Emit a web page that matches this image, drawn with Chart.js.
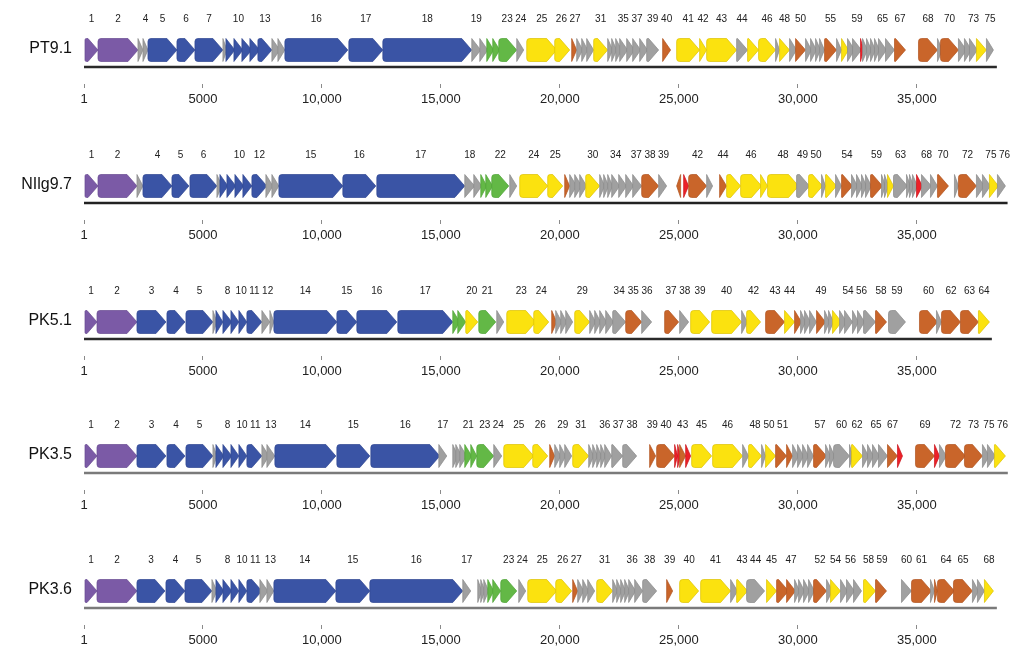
<!DOCTYPE html>
<html>
<head>
<meta charset="utf-8">
<script src="https://cdn.jsdelivr.net/npm/chart.js@4.4.1/dist/chart.umd.min.js"></script>
<style>
  html, body { margin: 0; padding: 0; background: #fff; width: 1020px; height: 647px; overflow: hidden; }
  .track { position: absolute; left: 0; width: 1020px; height: 107px; }
</style>
</head>
<body>
<div class="track" style="top:0px"><canvas id="t0"></canvas></div>
<div class="track" style="top:136px"><canvas id="t1"></canvas></div>
<div class="track" style="top:272px"><canvas id="t2"></canvas></div>
<div class="track" style="top:406px"><canvas id="t3"></canvas></div>
<div class="track" style="top:541px"><canvas id="t4"></canvas></div>
<script>
// axis ticks (bp)
const TICKS = [1, 5000, 10000, 15000, 20000, 25000, 30000, 35000];
const TICK_LABELS = ['1', '5000', '10,000', '15,000', '20,000', '25,000', '30,000', '35,000'];

const TRACK_NAMES = ['PT9.1', 'NIlg9.7', 'PK5.1', 'PK3.5', 'PK3.6'];
const GENOME_LENGTHS = [38350, 38800, 38140, 38810, 38350];

// genes: [start, end, kind]  (start > end = reverse strand)
// kinds: p purple, b blue, g grey, n green, y yellow, o orange, r red
const PT91_GENES = [
  [42,588,'p'],[588,2268,'p'],[2268,2478,'g'],[2478,2688,'g'],[2688,3906,'b'],[3906,4662,'b'],
  [4662,5838,'b'],[5838,6006,'g'],[5964,6342,'b'],[6300,6678,'b'],[6636,7056,'b'],[6972,7392,'b'],
  [7308,7896,'b'],[7896,8232,'g'],[8148,8442,'g'],[8442,11088,'b'],[11130,12558,'b'],[12558,16296,'b'],
  [16296,16674,'g'],[16632,16968,'g'],[16926,17220,'n'],[17178,17472,'n'],[17430,18186,'n'],[18186,18480,'g'],
  [18606,19866,'y'],[19782,20412,'y'],[20496,20706,'o'],[20706,20958,'g'],[20916,21168,'g'],[21126,21420,'g'],
  [21420,22008,'y'],[22008,22218,'g'],[22176,22386,'g'],[22344,22596,'g'],[22512,22848,'g'],[22806,23142,'g'],
  [23058,23394,'g'],[23352,23688,'g'],[23646,24150,'g'],[24318,24654,'o'],[24906,25872,'y'],[25872,26166,'y'],
  [26166,27426,'y'],[27426,27888,'g'],[27888,28350,'y'],[28350,29064,'y'],[29064,29232,'g'],[29232,29652,'y'],
  [29652,29946,'g'],[29904,30324,'o'],[30324,30576,'g'],[30534,30786,'g'],[30744,30954,'g'],[30912,31122,'g'],
  [31122,31626,'o'],[31626,31836,'g'],[31836,32130,'y'],[32088,32382,'g'],[32298,32676,'g'],[32634,32760,'r'],
  [32718,32928,'g'],[32886,33096,'g'],[33054,33264,'g'],[33222,33432,'g'],[33390,33726,'g'],[33684,34062,'g'],
  [34062,34524,'o'],[35070,35868,'o'],[35868,36078,'g'],[35994,36750,'o'],[36750,37086,'g'],[37002,37296,'g'],
  [37212,37548,'g'],[37506,37926,'y'],[37926,38220,'g']
];
const PT91_LABELS = [1,2,4,5,6,7,10,13,16,17,18,19,23,24,25,26,27,31,35,37,39,40,41,42,43,44,46,48,50,55,59,65,67,68,70,73,75];

const NILG97_GENES = [
  [42,588,'p'],[588,2226,'p'],[2226,2478,'g'],[2478,3696,'b'],[3696,4410,'b'],[4452,5586,'b'],
  [5586,5796,'g'],[5712,6048,'b'],[6006,6384,'b'],[6342,6720,'b'],[6678,7056,'b'],[7056,7686,'b'],
  [7644,7938,'g'],[7896,8190,'g'],[8190,10878,'b'],[10878,12264,'b'],[12306,16002,'b'],[16002,16422,'g'],
  [16380,16716,'g'],[16674,16926,'n'],[16884,17178,'n'],[17136,17850,'n'],[17892,18186,'g'],[18312,19488,'y'],
  [19488,20118,'y'],[20202,20412,'o'],[20412,20706,'g'],[20622,20916,'g'],[20832,21126,'g'],[21084,21672,'y'],
  [21672,21882,'g'],[21840,22050,'g'],[22008,22218,'g'],[22176,22512,'g'],[22470,22806,'g'],[22764,23100,'g'],
  [23058,23436,'g'],[23436,24150,'o'],[24150,24486,'g'],[25074,24906,'o'],[25200,25410,'r'],[25410,26166,'o'],
  [26166,26418,'g'],[26712,27006,'o'],[27006,27594,'y'],[27594,28476,'y'],[28434,28728,'y'],[28728,30030,'y'],
  [29946,30492,'g'],[30450,31038,'y'],[30996,31164,'g'],[31164,31626,'y'],[31584,31836,'g'],[31836,32298,'o'],
  [32256,32508,'g'],[32466,32718,'g'],[32676,32886,'g'],[32844,33096,'g'],[33054,33558,'o'],[33516,33684,'g'],
  [33642,33810,'g'],[33768,34020,'y'],[34020,34608,'g'],[34566,34734,'g'],[34692,34860,'g'],[34818,35028,'g'],
  [34986,35238,'r'],[35196,35616,'g'],[35574,35868,'g'],[35868,36330,'o'],[36582,36750,'g'],[36750,37506,'o'],
  [37506,37842,'g'],[37758,38094,'g'],[38052,38430,'y'],[38388,38724,'g']
];
const NILG97_LABELS = [1,2,4,5,6,10,12,15,16,17,18,22,24,25,30,34,37,38,39,42,44,46,48,49,50,54,59,63,68,70,72,75,76];

const PK51_GENES = [
  [42,546,'p'],[546,2226,'p'],[2226,3444,'b'],[3486,4242,'b'],[4284,5418,'b'],[5418,5586,'g'],
  [5544,5838,'b'],[5838,6216,'b'],[6174,6510,'b'],[6510,6846,'b'],[6846,7476,'b'],[7476,7812,'g'],
  [7812,7980,'g'],[7980,10626,'b'],[10626,11466,'b'],[11466,13146,'b'],[13188,15498,'b'],[15498,15792,'n'],
  [15708,16044,'n'],[16044,16548,'y'],[16590,17304,'n'],[17346,17640,'g'],[17766,18984,'y'],[18900,19530,'y'],
  [19656,19866,'o'],[19824,20076,'g'],[20034,20286,'g'],[20244,20538,'g'],[20622,21252,'y'],[21252,21504,'g'],
  [21462,21714,'g'],[21672,21966,'g'],[21924,22260,'g'],[22218,22764,'g'],[22764,23436,'o'],[23436,23856,'g'],
  [24402,24990,'o'],[25032,25410,'g'],[25494,26292,'y'],[26376,27636,'y'],[27636,27888,'g'],[27846,28434,'y'],
  [28644,29442,'o'],[29442,29862,'y'],[29862,30156,'o'],[30114,30324,'g'],[30282,30534,'g'],[30492,30786,'g'],
  [30786,31164,'o'],[31122,31332,'g'],[31290,31500,'g'],[31458,31836,'y'],[31752,32046,'g'],[31962,32298,'g'],
  [32298,32550,'g'],[32508,32802,'g'],[32760,33264,'g'],[33264,33726,'o'],[33810,34524,'g'],[35112,35868,'o'],
  [35826,36036,'g'],[36036,36834,'o'],[36834,37590,'o'],[37590,38052,'y']
];
const PK51_LABELS = [1,2,3,4,5,8,10,11,12,14,15,16,17,20,21,23,24,29,34,35,36,37,38,39,40,42,43,44,49,54,56,58,59,60,62,63,64];

const PK35_GENES = [
  [42,546,'p'],[546,2226,'p'],[2226,3444,'b'],[3486,4242,'b'],[4284,5418,'b'],[5418,5586,'g'],
  [5544,5880,'b'],[5838,6216,'b'],[6174,6510,'b'],[6510,6846,'b'],[6846,7476,'b'],[7476,7770,'g'],
  [7686,8022,'g'],[8022,10584,'b'],[10626,12012,'b'],[12054,14952,'b'],[14910,15246,'g'],[15498,15708,'g'],
  [15624,15876,'g'],[15792,16086,'g'],[16002,16296,'n'],[16254,16506,'n'],[16506,17220,'n'],[17220,17556,'g'],
  [17640,18900,'y'],[18858,19488,'y'],[19572,19782,'o'],[19782,20034,'g'],[19992,20244,'g'],[20202,20496,'g'],
  [20538,21210,'y'],[21210,21420,'g'],[21378,21588,'g'],[21546,21756,'g'],[21714,21924,'g'],[21882,22176,'g'],
  [22176,22638,'g'],[22638,23226,'g'],[23772,24024,'o'],[24066,24822,'o'],[24822,24948,'r'],[24948,25074,'r'],
  [25032,25284,'o'],[25284,25494,'r'],[25536,26376,'y'],[26418,27678,'y'],[27678,27930,'g'],[27930,28476,'y'],
  [28476,28644,'g'],[28644,29064,'y'],[29064,29526,'o'],[29526,29778,'o'],[29778,30030,'g'],[29988,30240,'g'],
  [30198,30450,'g'],[30408,30660,'g'],[30660,31206,'o'],[31164,31374,'g'],[31332,31542,'g'],[31500,32172,'g'],
  [32172,32298,'g'],[32256,32718,'y'],[32718,32970,'g'],[32928,33180,'g'],[33138,33432,'g'],[33390,33768,'g'],
  [33768,34188,'o'],[34188,34398,'r'],[34944,35742,'o'],[35742,35952,'r'],[35952,36246,'g'],[36204,37044,'o'],
  [37002,37758,'o'],[37758,38052,'g'],[37968,38304,'g'],[38262,38724,'y']
];
const PK35_LABELS = [1,2,3,4,5,8,10,11,13,14,15,16,17,21,23,24,25,26,29,31,36,37,38,39,40,43,45,46,48,50,51,57,60,62,65,67,69,72,73,75,76];

const PK36_GENES = [
  [42,546,'p'],[546,2226,'p'],[2226,3402,'b'],[3444,4242,'b'],[4242,5376,'b'],[5376,5586,'g'],
  [5544,5880,'b'],[5838,6216,'b'],[6174,6510,'b'],[6510,6846,'b'],[6846,7476,'b'],[7392,7728,'g'],
  [7686,7980,'g'],[7980,10584,'b'],[10584,12012,'b'],[12012,15918,'b'],[15918,16254,'g'],[16548,16716,'g'],
  [16674,16842,'g'],[16800,17010,'g'],[16968,17220,'n'],[17178,17514,'n'],[17514,18186,'n'],[18270,18564,'g'],
  [18648,19866,'y'],[19824,20496,'y'],[20538,20748,'o'],[20748,21000,'g'],[20958,21210,'g'],[21168,21462,'g'],
  [21546,22218,'y'],[22218,22428,'g'],[22386,22596,'g'],[22554,22764,'g'],[22722,22932,'g'],[22890,23184,'g'],
  [23142,23478,'g'],[23478,24066,'g'],[24486,24738,'o'],[25032,25830,'y'],[25914,27174,'y'],[27174,27468,'g'],
  [27426,27888,'y'],[27846,28602,'g'],[28686,29106,'y'],[29106,29610,'o'],[29526,29904,'o'],[29862,30072,'g'],
  [30030,30282,'g'],[30240,30492,'g'],[30450,30702,'g'],[30660,31206,'o'],[31206,31458,'g'],[31374,31794,'y'],
  [31794,32088,'g'],[32046,32382,'g'],[32340,32676,'g'],[32760,33264,'y'],[33264,33726,'o'],[34356,34776,'g'],
  [34776,35616,'o'],[35574,35742,'g'],[35742,35868,'o'],[35868,36582,'o'],[36540,37338,'o'],[37338,37590,'g'],
  [37548,37842,'g'],[37842,38220,'y']
];
const PK36_LABELS = [1,2,3,4,5,8,10,11,13,14,15,16,17,23,24,25,26,27,31,36,38,39,40,41,43,44,45,47,52,54,56,58,59,60,61,64,65,68];

const GENES = [PT91_GENES, NILG97_GENES, PK51_GENES, PK35_GENES, PK36_GENES];
const LABELS = [PT91_LABELS, NILG97_LABELS, PK51_LABELS, PK35_LABELS, PK36_LABELS];
const LINE_COLORS = ['#2a2a2a', '#222222', '#2a2a2a', '#7a7a7a', '#7a7a7a'];

const COLORS = {
  p: ['#7b5aa6', '#684b91'],
  b: ['#3a54a5', '#2f4690'],
  g: ['#a0a0a0', '#8a8a8a'],
  n: ['#63b846', '#4fa336'],
  y: ['#fbe20f', '#ddc200'],
  o: ['#c9652a', '#b0531f'],
  r: ['#ec2028', '#c9151c']
};

const FONT = '"Liberation Sans", Arial, Helvetica, sans-serif';
Chart.defaults.font.family = FONT;

const GENE_ROW = 34;   // y value of the arrow row
const LINE_ROW = 17;   // y value of the genome line

function drawArrow(ctx, x0, x1, yc, h, dir, col) {
  const len = Math.max(x1 - x0, 1);
  const head = Math.min(len, 10);
  const top = yc - h / 2, bot = yc + h / 2;
  const body = len - head;
  const r = Math.min(3, body / 2);
  ctx.beginPath();
  if (dir > 0) {
    const nx = x1 - head;
    if (body > 0.5) {
      ctx.moveTo(nx, top);
      ctx.lineTo(x0 + r, top);
      ctx.arcTo(x0, top, x0, top + r, r);
      ctx.lineTo(x0, bot - r);
      ctx.arcTo(x0, bot, x0 + r, bot, r);
      ctx.lineTo(nx, bot);
    } else {
      ctx.moveTo(x0, top);
      ctx.lineTo(x0, bot);
    }
    ctx.lineTo(x1, yc);
  } else {
    const nx = x0 + head;
    if (body > 0.5) {
      ctx.moveTo(nx, top);
      ctx.lineTo(x1 - r, top);
      ctx.arcTo(x1, top, x1, top + r, r);
      ctx.lineTo(x1, bot - r);
      ctx.arcTo(x1, bot, x1 - r, bot, r);
      ctx.lineTo(nx, bot);
    } else {
      ctx.moveTo(x1, top);
      ctx.lineTo(x1, bot);
    }
    ctx.lineTo(x0, yc);
  }
  ctx.closePath();
  ctx.fillStyle = col[0];
  ctx.fill();
  ctx.strokeStyle = col[1];
  ctx.lineWidth = 0.7;
  ctx.stroke();
}

// draws the gene bars as arrows instead of plain rectangles
const geneArrows = {
  id: 'geneArrows',
  beforeDatasetDraw(chart, args) {
    const ds = chart.data.datasets[args.index];
    if (!ds.genes) return;
    const ctx = chart.ctx;
    const els = args.meta.data;
    ctx.save();
    els.forEach((el, i) => {
      const g = ds.genes[i];
      const p = el.getProps(['x', 'base', 'y', 'height'], true);
      const x0 = Math.min(p.x, p.base), x1 = Math.max(p.x, p.base);
      drawArrow(ctx, x0, x1, p.y, p.height, g[0] > g[1] ? -1 : 1, COLORS[g[2]]);
    });

    // gene numbers, centred on their gene, nudged apart where they would collide
    ctx.font = '10px ' + FONT;
    ctx.fillStyle = '#222';
    ctx.textAlign = 'center';
    ctx.textBaseline = 'middle';
    const items = [];
    els.forEach((el, i) => {
      if (!ds.geneLabels.includes(i + 1)) return;
      const p = el.getProps(['x', 'base', 'y'], true);
      const text = String(i + 1);
      items.push({ text, x: (p.x + p.base) / 2, y: p.y - 31, w: ctx.measureText(text).width });
    });
    for (let it = 0; it < 30; it++) {
      for (let j = 1; j < items.length; j++) {
        const a = items[j - 1], b = items[j];
        const gap = (a.w + b.w) / 2 + 2.5 - (b.x - a.x);
        if (gap > 0) { a.x -= gap / 2; b.x += gap / 2; }
      }
    }
    items.forEach(t => ctx.fillText(t.text, t.x, t.y));
    ctx.restore();
    return false;
  }
};

// no extra label padding, so the plot area fills the canvas down to the x axis
function noPadding(ax) {
  ax.paddingTop = 0;
  ax.paddingBottom = 0;
  ax.paddingLeft = 0;
  ax.paddingRight = 0;
}

TRACK_NAMES.forEach((name, k) => {
  new Chart(document.getElementById('t' + k), {
    type: 'bar',
    data: {
      datasets: [
        {
          data: GENES[k].map(g => ({ x: [g[0], g[1]], y: GENE_ROW })),
          genes: GENES[k],
          geneLabels: LABELS[k],
          backgroundColor: '#999',
          barThickness: 23,
          grouped: false
        },
        {
          data: [{ x: [0, GENOME_LENGTHS[k]], y: LINE_ROW }],
          backgroundColor: LINE_COLORS[k],
          barThickness: 1.6,
          borderWidth: 0,
          grouped: false
        }
      ]
    },
    options: {
      indexAxis: 'y',
      responsive: true,
      maintainAspectRatio: false,
      animation: false,
      events: [],
      layout: { padding: { left: 0, right: 8, top: 0, bottom: 0 } },
      plugins: { legend: { display: false }, tooltip: { enabled: false } },
      scales: {
        x: {
          type: 'linear',
          min: 0,
          max: 39000,
          offset: false,
          afterBuildTicks: ax => { ax.ticks = TICKS.map(v => ({ value: v })); },
          afterFit: ax => { ax.height = 23; noPadding(ax); },
          ticks: {
            autoSkip: false,
            maxRotation: 0,
            padding: 4,
            color: '#222',
            font: { size: 13 },
            callback: (v, i) => TICK_LABELS[i]
          },
          grid: { drawOnChartArea: false, drawTicks: true, tickLength: 4, color: '#8a8a8a', lineWidth: 1 },
          border: { display: false }
        },
        y: {
          type: 'linear',
          min: 0,
          max: 84,
          offset: false,
          afterBuildTicks: ax => { ax.ticks = [{ value: 35.5 }]; },
          afterFit: ax => { ax.width = 84; noPadding(ax); },
          ticks: { padding: 12, color: '#111', font: { size: 16 }, callback: () => name },
          grid: { display: false, drawTicks: false, offset: false },
          border: { display: false }
        }
      }
    },
    plugins: [geneArrows]
  });
});
</script>
</body>
</html>
